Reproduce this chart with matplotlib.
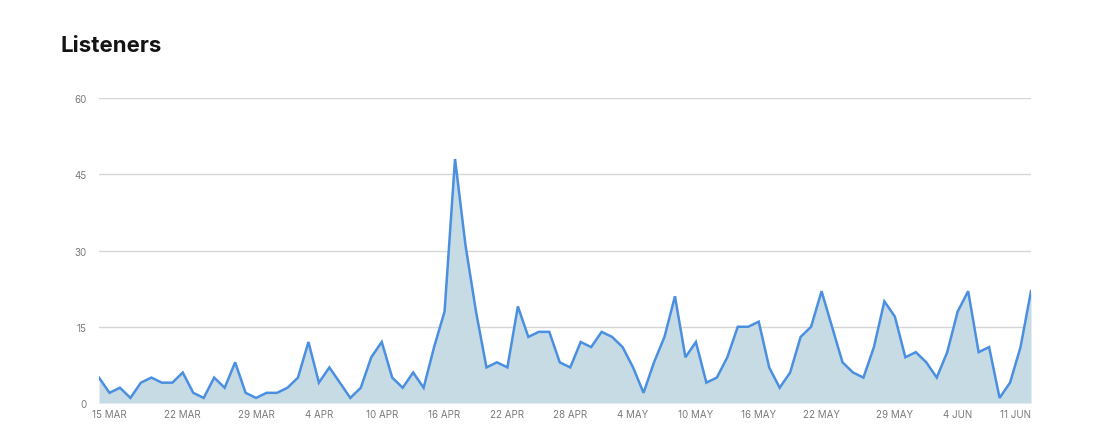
import matplotlib
matplotlib.use("Agg")
import matplotlib.pyplot as plt
import pandas as pd

# daily listeners, 14 MAR .. 11 JUN
start_date = "2019-03-14"
listeners = [
    5, 2, 3, 1, 4, 5, 4, 4, 6, 2,
    1, 5, 3, 8, 2, 1, 2, 2, 3, 5,
    12, 4, 7, 4, 1, 3, 9, 12, 5, 3,
    6, 3, 11, 18, 48, 31, 18, 7, 8, 7,
    19, 13, 14, 14, 8, 7, 12, 11, 14, 13,
    11, 7, 2, 8, 13, 21, 9, 12, 4, 5,
    9, 15, 15, 16, 7, 3, 6, 13, 15, 22,
    15, 8, 6, 5, 11, 20, 17, 9, 10, 8,
    5, 10, 18, 22, 10, 11, 1, 4, 11, 22,
]
tick_dates = ["15 MAR", "22 MAR", "29 MAR", "4 APR", "10 APR", "16 APR",
              "22 APR", "28 APR", "4 MAY", "10 MAY", "16 MAY", "22 MAY",
              "29 MAY", "4 JUN", "11 JUN"]
y_ticks = [0, 15, 30, 45, 60]

dates = pd.date_range(start_date, periods=len(listeners), freq="D")
labels = [f"{d.day} {d.strftime('%b').upper()}" for d in dates]
x = list(range(len(listeners)))

line_col = "#4a8fe0"
fill_col = "#c7dbe5"
grid_col = "#d6d6d6"
text_col = "#7a7a7a"

plt.rcParams["font.family"] = ["Inter", "DejaVu Sans"]

fig = plt.figure(figsize=(11.03, 4.35), dpi=100)
ax = fig.add_axes([99 / 1103, 1 - 404 / 435, (1031 - 99) / 1103, (404 - 99) / 435])

ax.fill_between(x, listeners, 0, color=fill_col, lw=0, zorder=2)
ax.plot(x, listeners, color=line_col, lw=1.8, zorder=3, solid_joinstyle="miter")

ax.set_xlim(0, len(listeners) - 1)
ax.set_ylim(0, 60)
ax.set_yticks(y_ticks)
ax.set_yticklabels([str(v) for v in y_ticks])
for v in y_ticks:
    ax.axhline(v, color=grid_col, lw=1, zorder=1)

tick_pos = [labels.index(t) for t in tick_dates]
ax.set_xticks(tick_pos)
ax.set_xticklabels(tick_dates)
ax.get_xticklabels()[-1].set_horizontalalignment("right")
ax.get_xticklabels()[-1].set_x(tick_pos[-1])

ax.tick_params(axis="both", length=0, labelsize=7, colors=text_col)
ax.tick_params(axis="y", pad=9)
ax.tick_params(axis="x", pad=4)
for s in ax.spines.values():
    s.set_visible(False)

fig.text(60 / 1103, 1 - 46 / 435, "Listeners", fontsize=16, fontweight="bold",
         color="#141414", va="center", ha="left")

fig.savefig("out.png", dpi=100)
